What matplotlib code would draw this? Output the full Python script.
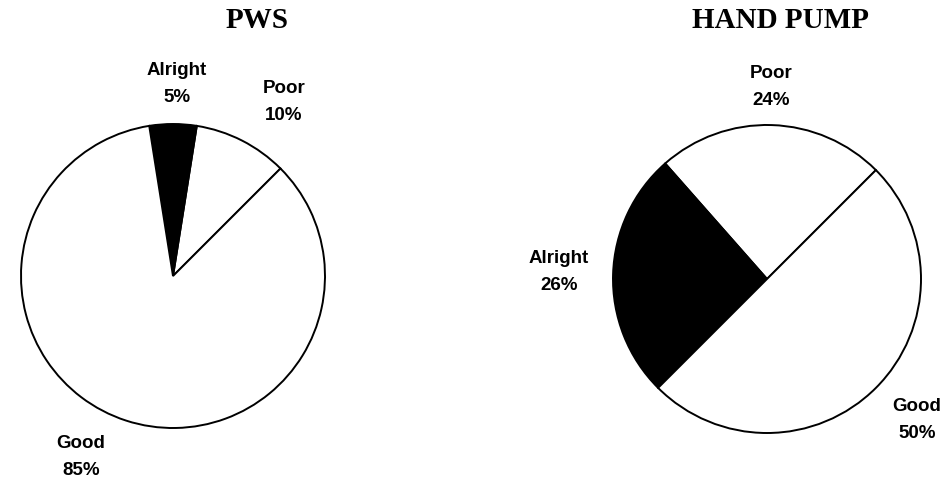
import matplotlib.pyplot as plt

# Data
categories = ["Poor", "Alright", "Good"]
pws_values = [10, 5, 85]
pump_values = [24, 26, 50]
slice_colors = ["white", "black", "white"]

W, H = 950, 482
fig = plt.figure(figsize=(9.5, 4.82), dpi=100)
ax = fig.add_axes([0, 0, 1, 1])

# pie centres / radii in pixel units (y measured from top)
pies = [
    ("PWS", pws_values, (173, 276), 152, (257, 20)),
    ("HAND PUMP", pump_values, (767, 279), 154, (781, 20)),
]

for title, vals, (cx, cy), r, (tx, ty) in pies:
    ax.pie(vals, colors=slice_colors, startangle=45, counterclock=True,
           center=(cx, H - cy), radius=r,
           wedgeprops=dict(edgecolor="black", linewidth=1.4))
    ax.text(tx, H - ty, title, ha="center", va="center", fontsize=21,
            fontweight="bold", family="Liberation Serif")

# slice labels
label_pos = {
    "PWS": {"Alright": (177, 84), "Poor": (284, 102), "Good": (81, 457)},
    "HAND PUMP": {"Poor": (771, 87), "Alright": (559, 272), "Good": (917, 420)},
}
for title, vals, *_ in pies:
    for cat, v in zip(categories, vals):
        x, y = label_pos[title][cat]
        ax.text(x, H - y, f"{cat}\n{v}%", ha="center", va="center",
                fontsize=13.5, fontweight="bold", family="Liberation Sans",
                linespacing=1.75)

ax.set_xlim(0, W)
ax.set_ylim(0, H)
ax.set_aspect("auto")
ax.axis("off")

fig.savefig("out.png", dpi=100)
